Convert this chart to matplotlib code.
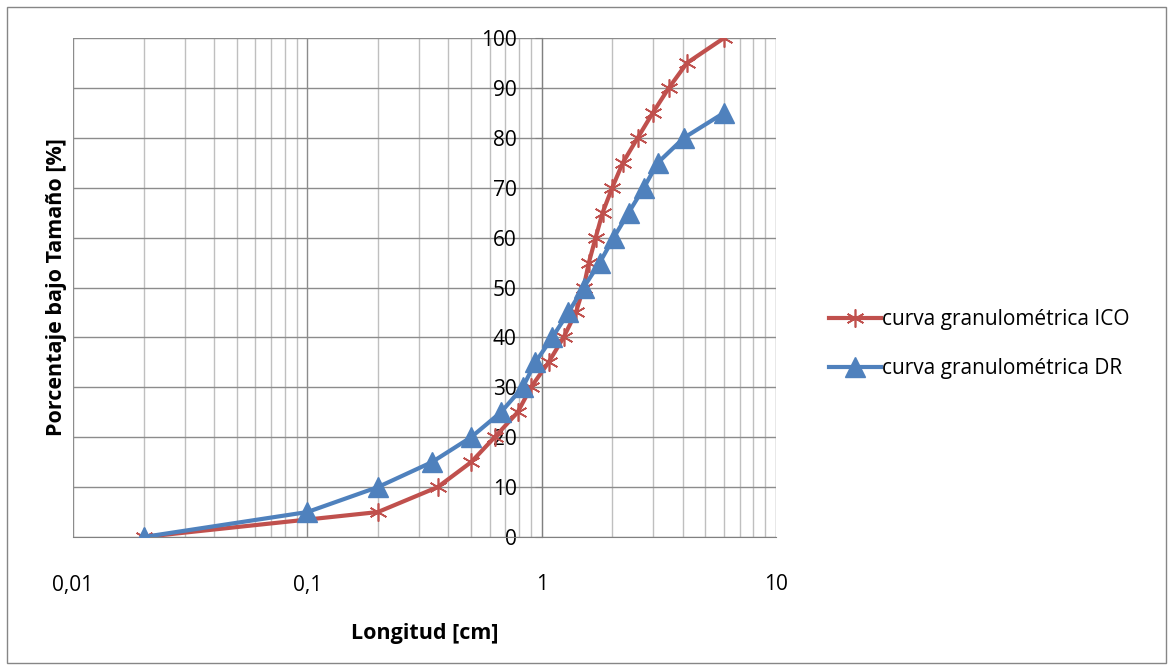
import matplotlib
matplotlib.use('Agg')
import matplotlib.pyplot as plt
from matplotlib.patches import Rectangle
from matplotlib.ticker import FixedLocator, LogLocator, NullFormatter

plt.rcParams['font.family'] = ['Open Sans', 'DejaVu Sans']

# curva granulométrica ICO
ico_x = [0.02, 0.2, 0.36, 0.5, 0.63, 0.79, 0.9, 1.07, 1.24, 1.40, 1.51,
         1.59, 1.70, 1.82, 2.0, 2.22, 2.57, 2.98, 3.49, 4.17, 6.0]
ico_y = [0, 5, 10, 15, 20, 25, 30, 35, 40, 45, 50,
         55, 60, 65, 70, 75, 80, 85, 90, 95, 100]

# curva granulométrica DR
dr_x = [0.02, 0.1, 0.2, 0.34, 0.5, 0.67, 0.83, 0.94, 1.11, 1.30, 1.51,
        1.77, 2.03, 2.35, 2.73, 3.13, 4.05, 6.0]
dr_y = [0, 5, 10, 15, 20, 25, 30, 35, 40, 45, 50,
        55, 60, 65, 70, 75, 80, 85]

x_ticks = [0.01, 0.1, 1, 10]
x_labels = ['0,01', '0,1', '1', '10']
y_ticks = list(range(0, 101, 10))

RED = '#C0504D'
BLUE = '#4F81BD'

fig = plt.figure(figsize=(11.73, 6.7), dpi=100)
fig.patches.append(Rectangle((0.006, 0.01), 0.988, 0.98, transform=fig.transFigure,
                             fill=False, edgecolor='#868686', linewidth=1))
ax = fig.add_axes([73 / 1173, 133 / 670, 703 / 1173, 499 / 670])

ax.set_xscale('log')
ax.set_xlim(0.01, 10)
ax.set_ylim(0, 100)

ax.plot(ico_x, ico_y, color=RED, linewidth=3, marker=(6, 2, 0), markersize=13,
        markeredgewidth=1.2, markeredgecolor=RED, label='curva granulométrica ICO', zorder=3)
ax.plot(dr_x, dr_y, color=BLUE, linewidth=3, marker='^', markersize=14,
        markeredgecolor=BLUE, label='curva granulométrica DR', zorder=4)

# grid
ax.xaxis.set_major_locator(FixedLocator(x_ticks))
ax.xaxis.set_minor_locator(LogLocator(base=10, subs=range(2, 10)))
ax.xaxis.set_minor_formatter(NullFormatter())
ax.set_xticklabels(x_labels)
ax.set_yticks(y_ticks)
ax.grid(True, which='major', axis='both', color='#8c8c8c', linewidth=1)
ax.grid(True, which='minor', axis='x', color='#bfbfbf', linewidth=1)
ax.set_axisbelow(True)

for s in ['top', 'right']:
    ax.spines[s].set_visible(False)
ax.spines['left'].set_position(('data', 1))
ax.spines['left'].set_color('#808080')
ax.spines['bottom'].set_color('#808080')

ax.tick_params(axis='y', length=5, color='#808080', pad=13, labelsize=15)
ax.tick_params(axis='x', which='both', length=0, pad=27, labelsize=15)

ax.set_xlabel('Longitud [cm]', fontsize=15.5, fontweight='bold', labelpad=20)
ax.set_ylabel('Porcentaje bajo Tamaño [%]', fontsize=15.5, fontweight='bold')
ax.yaxis.set_label_coords(-0.009, 0.5)

ax.legend(loc='center left', bbox_to_anchor=(810 / 1173, 1 - 344 / 670),
          bbox_transform=fig.transFigure, frameon=False, fontsize=15,
          handlelength=2.5, handletextpad=0.05, labelspacing=1.35)

fig.savefig('out.png', dpi=100)
